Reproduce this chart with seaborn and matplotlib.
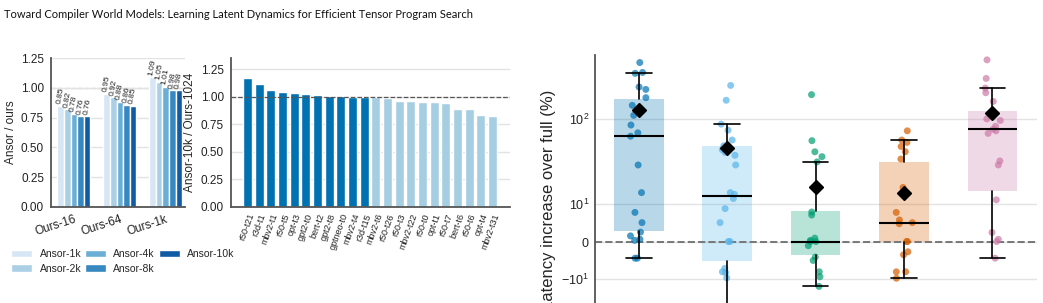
import numpy as np
import pandas as pd
import matplotlib
matplotlib.use('Agg')
import matplotlib.pyplot as plt
import matplotlib.ticker as mticker
import seaborn as sns

# (a) Ansor budget / ours, grouped by our budget
ours_budgets = ['Ours-16', 'Ours-64', 'Ours-1k']
ansor_budgets = ['Ansor-1k', 'Ansor-2k', 'Ansor-4k', 'Ansor-8k', 'Ansor-10k']
ratio_16 = [0.85, 0.82, 0.78, 0.76, 0.76]
ratio_64 = [0.95, 0.92, 0.88, 0.86, 0.85]
ratio_1k = [1.09, 1.05, 1.01, 0.98, 0.98]

# (b) per task Ansor-10k / Ours-1024
tasks = ['r50-t21', 'r3d-t1', 'mbv2-t1', 'r50-t5', 'opt-t3', 'gpt2-t0', 'bert-t2',
         'gpt2-t8', 'gptneo-t0', 'mbv2-t4', 'r3d-t15', 'mbv2-t6', 'r50-t26', 'r50-t3',
         'mbv2-t22', 'r50-t0', 'opt-t1', 'r50-t7', 'bert-t6', 'r50-t6', 'opt-t4', 'mbv2-t31']
task_ratio = [1.174, 1.113, 1.058, 1.040, 1.030, 1.021, 1.012, 1.003, 1.003, 1.002, 1.001,
              0.998, 0.985, 0.966, 0.966, 0.957, 0.948, 0.939, 0.893, 0.893, 0.838, 0.829]

# (c) latency increase over full (%), one list per variant
pts_1 = [455, 348, 340, 235, 220, 176, 143, 109, 84, 68, 62, 28.5, 13.5, 7.7, 5.0, 2.5,
         1.5, 0.6, 0.3, -4.4, -4.4]
pts_2 = [245, 164, 86, 73, 56, 48, 43, 40, 37, 28.5, 13.5, 12.9, 11.5, 8.7, 5.0, 0, 0,
         -7.1, -8.0, -8.2, -9.6]
pts_3 = [191, 55, 40.7, 35.7, 31, 7.8, 7.0, 0.9, 0.3, 0, 0, -1.1, -4.1, -5.0, -8.0,
         -9.3, -12.1]
pts_4 = [71.8, 56, 52.5, 47, 40.8, 33.5, 15.5, 7.7, 5.7, 5.0, 4.7, 0, 0, -2.7, -3.5,
         -8.0, -8.0, -9.7]
pts_5 = [489, 296, 228, 201, 159, 99, 95, 81, 75, 71.7, 67, 31.8, 28.5, 11.1, 2.4, 0.6,
         0, -4.4]
box_q1 = [2.9, -5.2, -3.5, 0.0, 14.2]
box_med = [63, 12.2, 0.0, 5.0, 74.5]
box_q3 = [171, 47, 8.0, 30.9, 122]
whis_lo = [-4.3, -40, -12, -9.6, -4.3]
whis_hi = [340, 86, 31.2, 55.3, 228]
box_mean = [127, 44.7, 15.5, 13.3, 116]

sns.set_theme(style='whitegrid')
plt.rcParams['font.family'] = ['Liberation Sans', 'DejaVu Sans']
spine_col = '#555555'
grid_col = '#e3e3e3'

fig = plt.figure(figsize=(10.43, 3.03), dpi=100)
W, H = 1043, 303


def add_ax(x0, y0, x1, y1):
    return fig.add_axes([x0 / W, 1 - y1 / H, (x1 - x0) / W, (y1 - y0) / H])


def style_ax(ax, bottom=True):
    for s in ['top', 'right']:
        ax.spines[s].set_visible(False)
    ax.spines['left'].set_color(spine_col)
    ax.spines['left'].set_linewidth(1.3)
    ax.spines['bottom'].set_color(spine_col)
    ax.spines['bottom'].set_linewidth(1.3)
    ax.spines['bottom'].set_visible(bottom)
    ax.xaxis.grid(False)
    ax.yaxis.grid(True, color=grid_col, lw=1)
    ax.set_axisbelow(True)
    ax.tick_params(axis='both', colors=spine_col, length=3, width=1, pad=2,
                   labelcolor='#222222')


# ---- (a)
ax1 = add_ax(51, 58.3, 185, 206.7)
df_a = pd.DataFrame({
    'ours': np.repeat(ours_budgets, len(ansor_budgets)),
    'ansor': ansor_budgets * len(ours_budgets),
    'ratio': ratio_16 + ratio_64 + ratio_1k,
})
sns.barplot(data=df_a, x='ours', y='ratio', hue='ansor', palette='Blues',
            width=0.72, ax=ax1, saturation=1)
handles, labels = ax1.get_legend_handles_labels()
ax1.get_legend().remove()
for c in ax1.containers:
    ax1.bar_label(c, fmt='%.2f', rotation=80, fontsize=6, padding=1, color='#222222')
ax1.axhline(1.0, color='#aaaaaa', ls='--', lw=0.9, zorder=0.5)
ax1.set_ylim(0, 1.25)
ax1.set_xlim(-0.5, 2.42)
ax1.set_yticks([0, 0.25, 0.5, 0.75, 1.0, 1.25])
ax1.yaxis.set_major_formatter(mticker.FormatStrFormatter('%.2f'))
style_ax(ax1)
ax1.tick_params(axis='y', labelsize=8.5)
ax1.tick_params(axis='x', labelsize=8.5)
plt.setp(ax1.get_xticklabels(), rotation=18, ha='right', rotation_mode='anchor')
ax1.set_xlabel('')
ax1.set_ylabel('Ansor / ours', fontsize=8.5, labelpad=3)

fig.legend(handles, labels, ncol=3, loc='upper left', bbox_to_anchor=(2 / W, 1 - 240 / H),
           frameon=False, fontsize=7.5, handlelength=2.0, handleheight=0.7,
           columnspacing=0.4, labelspacing=0.4, handletextpad=0.7)

# ---- (b)
ax2 = add_ax(230.7, 58.3, 510, 206.7)
df_b = pd.DataFrame({'task': tasks, 'ratio': task_ratio})
df_b['win'] = np.where(df_b['ratio'] >= 1.0, 'win', 'loss')
sns.barplot(data=df_b, x='task', y='ratio', hue='win', dodge=False,
            palette={'win': '#0072B2', 'loss': '#A6CEE3'}, width=0.78,
            saturation=1, legend=False, ax=ax2)
ax2.axhline(1.0, color='#555555', ls='--', lw=0.9, zorder=3)
ax2.set_ylim(0, 1.35)
ax2.set_xlim(-1.44, 22.5)
ax2.set_yticks([0, 0.25, 0.5, 0.75, 1.0, 1.25])
ax2.yaxis.set_major_formatter(mticker.FormatStrFormatter('%.2f'))
style_ax(ax2)
ax2.tick_params(axis='y', labelsize=8.5)
ax2.tick_params(axis='x', labelsize=6.5, length=2)
plt.setp(ax2.get_xticklabels(), rotation=70, ha='right', rotation_mode='anchor')
ax2.set_xlabel('')
ax2.set_ylabel('Ansor-10k / Ours-1024', fontsize=8.5, labelpad=3)

# ---- (c)
ax3 = add_ax(594.7, 55, 1036.5, 345)
box_colors = ['#0072B2', '#56B4E9', '#009E73', '#D55E00', '#CC79A7']
groups = ['g1', 'g2', 'g3', 'g4', 'g5']
all_pts = [pts_1, pts_2, pts_3, pts_4, pts_5]
df_c = pd.DataFrame({
    'group': np.concatenate([[g] * len(p) for g, p in zip(groups, all_pts)]),
    'value': np.concatenate(all_pts),
})
stats = [dict(q1=a, med=b, q3=c, whislo=d, whishi=e, mean=f)
         for a, b, c, d, e, f in zip(box_q1, box_med, box_q3, whis_lo, whis_hi, box_mean)]
bp = ax3.bxp(stats, positions=range(5), widths=0.56, patch_artist=True,
             showmeans=True, showfliers=False, capwidths=0.29,
             boxprops=dict(linewidth=0, zorder=1),
             medianprops=dict(color='black', lw=1.5, zorder=3),
             whiskerprops=dict(color='black', lw=1.2, zorder=3),
             capprops=dict(color='black', lw=1.2, zorder=3),
             meanprops=dict(marker='D', markerfacecolor='black', markeredgecolor='black',
                            markersize=7, zorder=5))
for patch, col in zip(bp['boxes'], box_colors):
    patch.set_facecolor(col)
    patch.set_alpha(0.28)
np.random.seed(3)
sns.stripplot(data=df_c, x='group', y='value', hue='group', palette=box_colors,
              order=groups, jitter=0.1, size=5, alpha=0.7, linewidth=0,
              legend=False, ax=ax3, zorder=2.5)
ax3.set_yscale('symlog', linthresh=10, linscale=0.4)
ax3.set_ylim(-59, 558)
ax3.set_xlim(-0.5, 4.5)
ax3.yaxis.set_major_locator(mticker.FixedLocator([-10, 0, 10, 100]))
ax3.yaxis.set_minor_locator(mticker.NullLocator())
ax3.axhline(0, color='#777777', ls='--', lw=1.4, zorder=1.5)
style_ax(ax3, bottom=False)
ax3.tick_params(axis='y', labelsize=9, length=0, pad=4)
ax3.set_xticklabels([])
ax3.set_xlabel('')
ax3.set_ylabel('Latency increase over full (%)', fontsize=12, labelpad=4)

fig.text(4 / W, 1 - 15 / H,
         'Toward Compiler World Models: Learning Latent Dynamics for Efficient Tensor Program Search',
         fontsize=8.0, family=['Lato', 'DejaVu Sans'],
         va='center', ha='left', color='#111111')

fig.savefig('out.png', dpi=100)
